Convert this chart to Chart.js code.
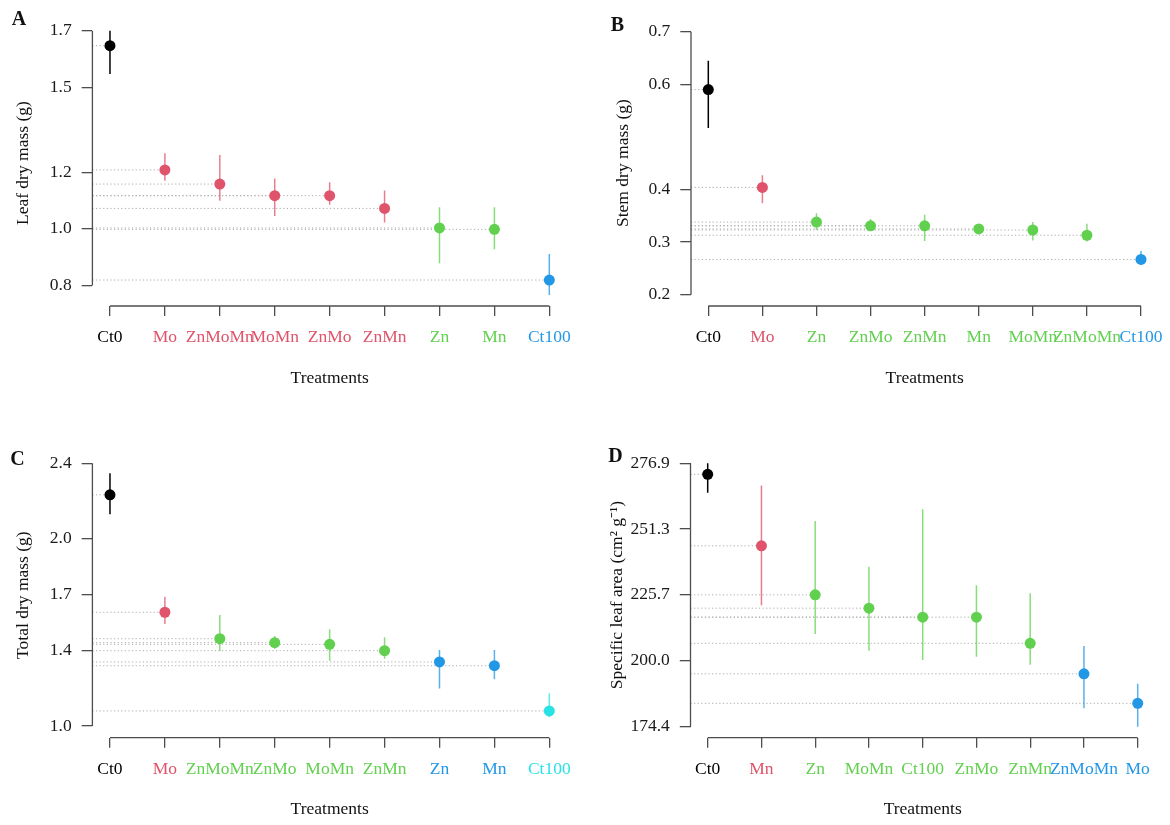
<!DOCTYPE html>
<html>
<head>
<meta charset="utf-8">
<title>Dry mass and specific leaf area by treatment</title>
<script src="https://cdn.jsdelivr.net/npm/chart.js@4.4.1/dist/chart.umd.min.js"></script>
<style>
  html, body { margin: 0; padding: 0; background: #fff; }
  #wrap { position: relative; width: 1170px; height: 825px; overflow: hidden; }
  #wrap canvas { position: absolute; }
</style>
</head>
<body>
<div id="wrap">
  <canvas id="leafChart" width="585" height="412" style="left:0;top:0"></canvas>
  <canvas id="stemChart" width="585" height="412" style="left:585px;top:0"></canvas>
  <canvas id="totalChart" width="585" height="413" style="left:0;top:412px"></canvas>
  <canvas id="slaChart" width="585" height="413" style="left:585px;top:412px"></canvas>
</div>
<script>
const black = '#000000', red = '#DF536B', green = '#61D04F', blue = '#2297E6', cyan = '#28E2E5';

// A - leaf dry mass (g)
const leafCats = ['Ct0', 'Mo', 'ZnMoMn', 'MoMn', 'ZnMo', 'ZnMn', 'Zn', 'Mn', 'Ct100'];
const leafMean = [1.647, 1.208, 1.158, 1.117, 1.117, 1.072, 1.003, 0.998, 0.819];
const leafLo   = [1.547, 1.170, 1.099, 1.045, 1.085, 1.022, 0.878, 0.928, 0.766];
const leafHi   = [1.700, 1.267, 1.261, 1.178, 1.164, 1.135, 1.076, 1.076, 0.911];
const leafCols = [black, red, red, red, red, red, green, green, blue];
const leafTicks = [0.8, 1.0, 1.2, 1.5, 1.7];

// B - stem dry mass (g)
const stemCats = ['Ct0', 'Mo', 'Zn', 'ZnMo', 'ZnMn', 'Mn', 'MoMn', 'ZnMoMn', 'Ct100'];
const stemMean = [0.590, 0.404, 0.338, 0.331, 0.331, 0.325, 0.323, 0.313, 0.267];
const stemLo   = [0.517, 0.374, 0.323, 0.323, 0.302, 0.319, 0.303, 0.301, 0.258];
const stemHi   = [0.645, 0.427, 0.355, 0.344, 0.352, 0.331, 0.338, 0.335, 0.283];
const stemCols = [black, red, green, green, green, green, green, green, blue];
const stemTicks = [0.2, 0.3, 0.4, 0.6, 0.7];

// C - total dry mass (g)
const totalCats = ['Ct0', 'Mo', 'ZnMoMn', 'ZnMo', 'MoMn', 'ZnMn', 'Zn', 'Mn', 'Ct100'];
const totalMean = [2.232, 1.606, 1.465, 1.444, 1.435, 1.401, 1.341, 1.321, 1.080];
const totalLo   = [2.129, 1.543, 1.400, 1.412, 1.348, 1.358, 1.199, 1.249, 1.047];
const totalHi   = [2.347, 1.689, 1.591, 1.479, 1.515, 1.473, 1.405, 1.405, 1.174];
const totalCols = [black, red, green, green, green, green, blue, blue, cyan];
const totalTicks = [1.0, 1.4, 1.7, 2.0, 2.4];

// D - specific leaf area (cm2 g-1)
const slaCats = ['Ct0', 'Mn', 'Zn', 'MoMn', 'Ct100', 'ZnMo', 'ZnMn', 'ZnMoMn', 'Mo'];
const slaMean = [272.6, 244.7, 225.6, 220.4, 216.9, 216.9, 206.7, 194.8, 183.3];
const slaLo   = [265.4, 221.5, 210.3, 203.8, 200.2, 201.5, 198.3, 181.4, 174.2];
const slaHi   = [276.9, 268.2, 254.4, 236.6, 259.0, 229.3, 226.2, 205.7, 190.9];
const slaCols = [black, red, green, green, green, green, green, blue, blue];
const slaTicks = [174.4, 200.0, 225.7, 251.3, 276.9];

const FONT = '"Liberation Serif", "Times New Roman", serif';
const FS = 17.5;
const X_MIN = -0.32, X_MAX = 8.32;   // R's 4% axis extension around 9 categories
Chart.defaults.font.family = FONT;
Chart.defaults.color = '#1a1a1a';

function fade(hex, a) {
  if (hex === black) return hex;
  const n = parseInt(hex.slice(1), 16);
  return `rgba(${n >> 16},${(n >> 8) & 255},${n & 255},${a})`;
}

// R style axes: lines only run between first and last tick, plus the panel letter
const rAxes = {
  id: 'rAxes',
  afterDraw(chart, args, opts) {
    const {ctx, chartArea, scales: {x, y}} = chart;
    const yp = y.ticks.map(t => y.getPixelForValue(t.value));
    const xp = x.ticks.map(t => x.getPixelForValue(t.value));
    ctx.save();
    ctx.strokeStyle = '#4d4d4d';
    ctx.lineWidth = 1.3;
    ctx.beginPath();
    ctx.moveTo(chartArea.left, Math.min(...yp));
    ctx.lineTo(chartArea.left, Math.max(...yp));
    ctx.moveTo(Math.min(...xp), chartArea.bottom);
    ctx.lineTo(Math.max(...xp), chartArea.bottom);
    ctx.stroke();
    ctx.fillStyle = '#111';
    ctx.font = 'bold 20px ' + FONT;
    ctx.textAlign = 'center';
    ctx.textBaseline = 'alphabetic';
    ctx.fillText(opts.letter, opts.lx, opts.ly + 6.7);
    ctx.restore();
  }
};

function drawPanel(id, cats, mean, lo, hi, cols, yTicks, yTitle, p) {
  const canvas = document.getElementById(id);
  const W = canvas.width, H = canvas.height;
  const points = mean.map((v, i) => ({x: i, y: v}));
  const errBars = mean.flatMap((v, i) => [{x: i, y: lo[i]}, {x: i, y: hi[i]}, {x: i, y: null}]);
  const refLines = mean.flatMap((v, i) => [{x: X_MIN, y: v}, {x: i, y: v}, {x: i, y: null}]);

  return new Chart(canvas, {
    type: 'scatter',
    data: {
      datasets: [
        {
          type: 'scatter',
          data: points,
          pointRadius: 5.5,
          pointBackgroundColor: cols,
          pointBorderColor: cols,
          pointBorderWidth: 0,
          order: 0
        },
        {
          type: 'line',
          data: errBars,
          borderWidth: 1.5,
          pointRadius: 0,
          spanGaps: false,
          segment: { borderColor: c => fade(cols[Math.floor(c.p0DataIndex / 3)], 0.75) },
          order: 1
        },
        {
          type: 'line',
          data: refLines,
          borderColor: '#ababab',
          borderWidth: 1,
          borderDash: [1.2, 2.4],
          pointRadius: 0,
          spanGaps: false,
          order: 2
        }
      ]
    },
    options: {
      responsive: false,
      animation: false,
      events: [],
      layout: { padding: { top: p.top, right: W - p.right, left: 0, bottom: 0 } },
      plugins: {
        legend: { display: false },
        tooltip: { enabled: false },
        rAxes: { letter: p.letter, lx: p.lx, ly: p.ly }
      },
      scales: {
        x: {
          type: 'linear',
          min: X_MIN,
          max: X_MAX,
          afterBuildTicks: s => { s.ticks = cats.map((c, i) => ({value: i})); },
          afterFit: s => { s.height = H - p.bottom; s.paddingLeft = 0; s.paddingRight = 0; },
          ticks: {
            autoSkip: false,
            maxRotation: 0,
            padding: 11,
            font: { size: FS },
            color: c => cols[c.index],
            callback: v => cats[v]
          },
          grid: { drawOnChartArea: false, drawTicks: true, tickLength: 10, color: '#4d4d4d', lineWidth: 1.3 },
          border: { display: false },
          title: {
            display: true,
            text: 'Treatments',
            color: '#111',
            font: { size: FS },
            padding: { top: 0, bottom: p.xPad }
          }
        },
        y: {
          type: 'linear',
          min: p.yMin,
          max: p.yMax,
          afterBuildTicks: s => { s.ticks = yTicks.map(v => ({value: v})); },
          afterFit: s => { s.width = p.left; s.paddingTop = 0; s.paddingBottom = 0; },
          ticks: {
            padding: 10,
            font: { size: FS },
            color: '#1a1a1a',
            callback: v => v.toFixed(1)
          },
          grid: { drawOnChartArea: false, drawTicks: true, tickLength: 10.7, color: '#4d4d4d', lineWidth: 1.3 },
          border: { display: false },
          title: {
            display: true,
            text: yTitle,
            color: '#111',
            font: { size: FS },
            padding: { top: p.yPad, bottom: 0 }
          }
        }
      }
    },
    plugins: [rAxes]
  });
}

drawPanel('leafChart', leafCats, leafMean, leafLo, leafHi, leafCols, leafTicks, 'Leaf dry mass (g)',
  { left: 92.4, right: 566.9, top: 20.2, bottom: 306, yMin: 0.7272, yMax: 1.737,
    yPad: 12.5, xPad: 23.3, letter: 'A', lx: 19, ly: 18.3 });

drawPanel('stemChart', stemCats, stemMean, stemLo, stemHi, stemCols, stemTicks, 'Stem dry mass (g)',
  { left: 106, right: 573.3, top: 20.2, bottom: 306, yMin: 0.1785, yMax: 0.7219,
    yPad: 27.5, xPad: 23.3, letter: 'B', lx: 32.5, ly: 24 });

drawPanel('totalChart', totalCats, totalMean, totalLo, totalHi, totalCols, totalTicks, 'Total dry mass (g)',
  { left: 92.4, right: 566.9, top: 40.5, bottom: 325.7, yMin: 0.9373, yMax: 2.4576,
    yPad: 12.5, xPad: 4.6, letter: 'C', lx: 17.5, ly: 46.3 });

drawPanel('slaChart', slaCats, slaMean, slaLo, slaHi, slaCols, slaTicks, 'Specific leaf area (cm² g⁻¹)',
  { left: 105.5, right: 569.9, top: 40.5, bottom: 325.7, yMin: 169.9, yMax: 281.1,
    yPad: 21.5, xPad: 4.6, letter: 'D', lx: 30.5, ly: 42.8 });
</script>
</body>
</html>
